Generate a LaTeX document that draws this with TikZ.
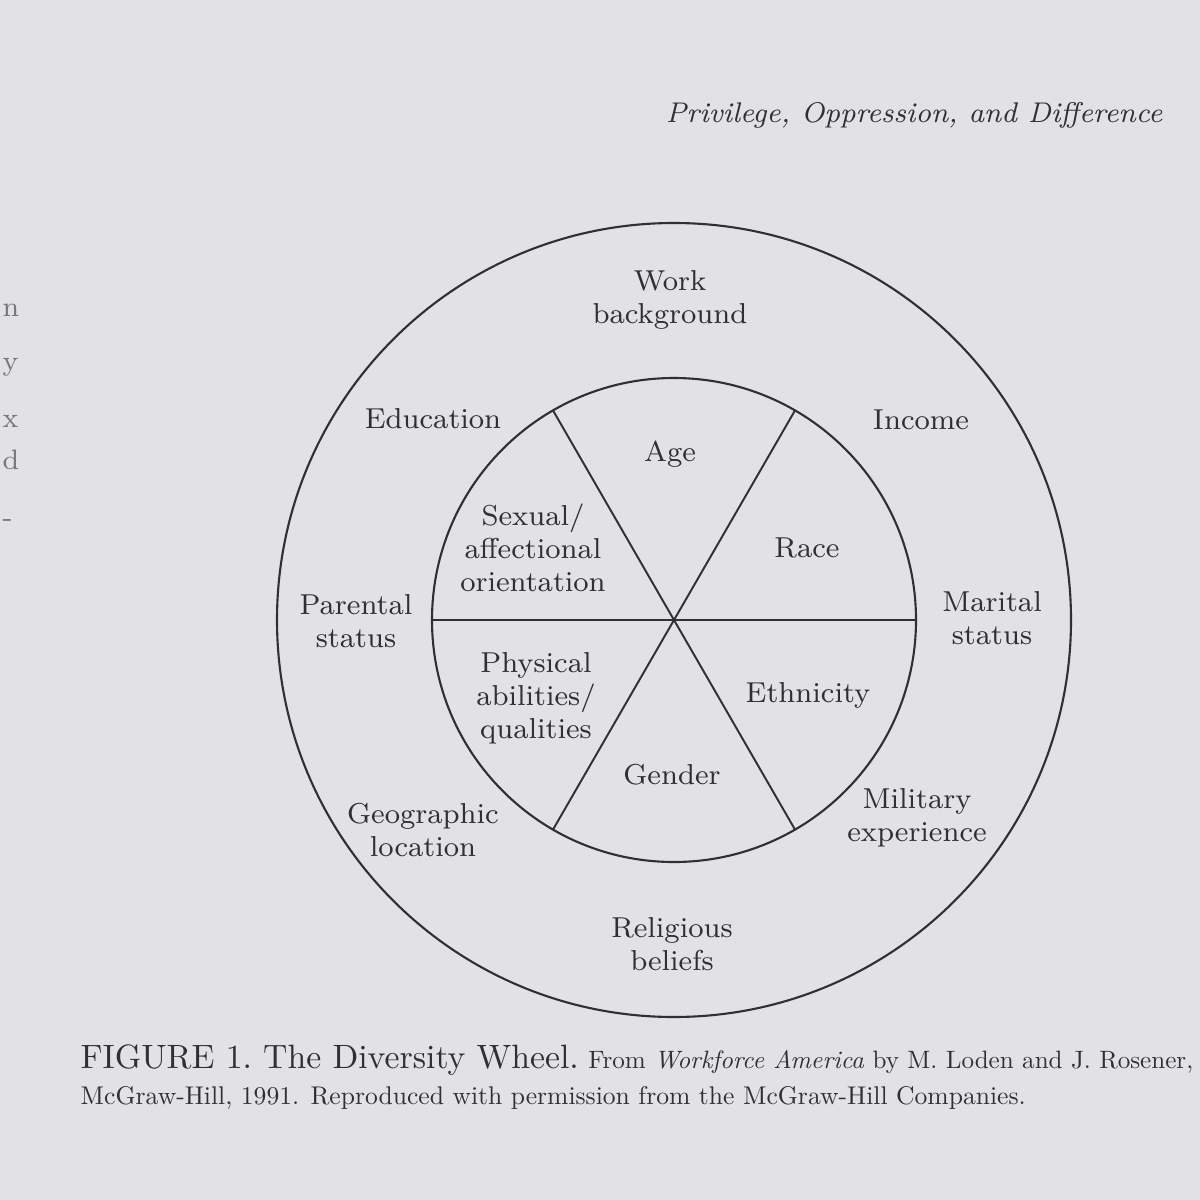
\documentclass[tikz,border=0pt]{standalone}
\usepackage{fontspec}
\usetikzlibrary{positioning}
\definecolor{PageGray}{RGB}{226,226,228}
\definecolor{InkGray}{RGB}{48,48,50}
\definecolor{BleedGray}{RGB}{120,120,122}
\tikzset{
  facet/.style={align=center,text=InkGray,inner sep=0pt,
    font=\fontsize{8.2}{9.4}\selectfont},
  rim/.style={draw=InkGray,line width=0.6pt},
  spoke/.style={draw=InkGray,line width=0.55pt},
  bleed/.style={text=BleedGray,inner sep=0pt,anchor=base west,
    font=\fontsize{8}{9}\selectfont},
  captext/.style={text=InkGray,inner sep=0pt,anchor=base west}
}

\begin{document}
\begin{tikzpicture}[x=0.1mm,y=-0.1mm]
  \fill[PageGray] (0,0) rectangle (1200,1200);
  \useasboundingbox (0,0) rectangle (1200,1200);
  \clip (0,0) rectangle (1200,1200);

  % running head
  \node[captext,anchor=base east] (head) at (1163,122)
    {\fontsize{8.1}{10}\selectfont\itshape Privilege, Oppression, and Difference};

  % bits of the facing page
  \node[bleed] (b1) at (2,316) {n};
  \node[bleed] (b2) at (2,370) {y};
  \node[bleed] (b3) at (2,427) {x};
  \node[bleed] (b4) at (2,469) {d};
  \node[bleed] (b5) at (2,526) {-};

  % the wheel
  \coordinate (hub) at (674,620);
  \draw[rim] (hub) circle (397);
  \draw[rim] (hub) circle (242);
  \foreach \a in {0,60,120}
    \draw[spoke] ([shift={(\a:242)}]hub) -- ([shift={(\a+180:242)}]hub);

  % inner ring
  \node[facet] (age) at (670,454) {Age};
  \node[facet] (race) at (807,548) {Race};
  \node[facet] (ethnicity) at (808,695) {Ethnicity};
  \node[facet] (gender) at (672,775) {Gender};
  \node[facet] (physical) at (536,698) {Physical\\abilities/\\qualities};
  \node[facet] (sexual) at (533,548) {Sexual/\\affectional\\orientation};

  % outer ring
  \node[facet] (work) at (670,300) {Work\\background};
  \node[facet] (income) at (921,420) {Income};
  \node[facet] (marital) at (992,618) {Marital\\status};
  \node[facet] (military) at (917,818) {Military\\experience};
  \node[facet] (religious) at (672,944) {Religious\\beliefs};
  \node[facet] (geographic) at (423,830) {Geographic\\location};
  \node[facet] (parental) at (356,621) {Parental\\status};
  \node[facet] (education) at (433,419) {Education};

  % caption
  \node[captext] (figcap) at (80,1068)
    {\fontsize{9.6}{12}\selectfont FIGURE 1.\ The Diversity Wheel.};
  \node[captext] (figsrc) at ([xshift=0.8mm]figcap.base east)
    {\resizebox{6.05cm}{!}{From \textit{Workforce America} by M. Loden and J. Rosener,}};
  \node[captext] (figcap2) at (80,1104)
    {\resizebox{9.45cm}{!}{McGraw-Hill, 1991. Reproduced with permission from the McGraw-Hill Companies.}};
\end{tikzpicture}
\end{document}
